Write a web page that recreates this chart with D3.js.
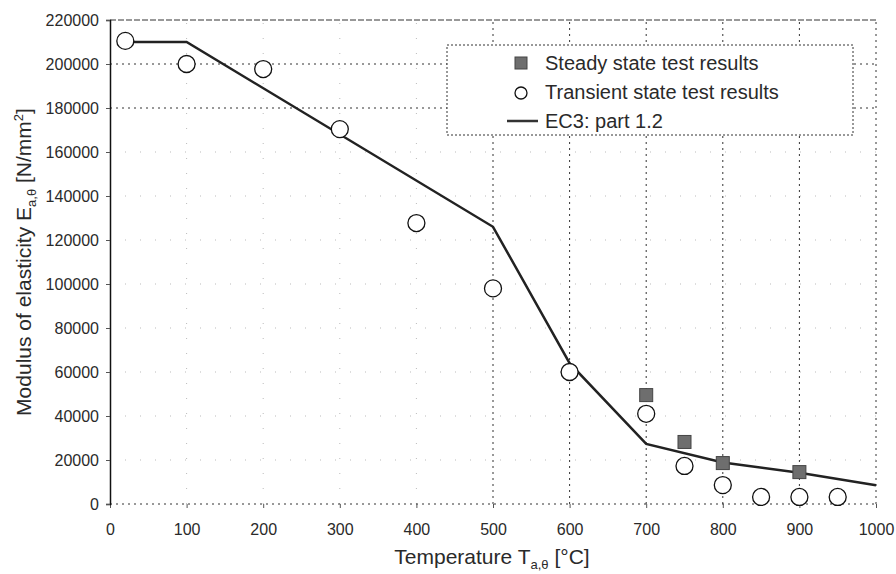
<!DOCTYPE HTML>
<html lang="en">
    <head>
        <meta charset="utf-8" />
        <title>Modulus of elasticity vs temperature</title>
        <style>
            body { margin: 0; background: #fff; }
            text { font-family: Arial, "Liberation Sans", sans-serif; fill: #2a2a2a; }
        </style>
    </head>
    <body>
        <div id="chart"></div>

        <script src="https://d3js.org/d3.v7.min.js"></script>
        <script>

            // EC3: part 1.2 curve
            const ec3Temp = [20, 100, 500, 600, 700, 800, 900, 1000];
            const ec3E = [210000, 210000, 126000, 64000, 27300, 18900, 14200, 8500];

            // Transient state test results
            const transTemp = [20, 100, 200, 300, 400, 500, 600, 700, 750, 800, 850, 900, 950];
            const transE = [210500, 200000, 197700, 170400, 127700, 98000, 60000, 41000, 17300, 8600, 3200, 3200, 3200];

            // Steady state test results
            const steadyTemp = [700, 750, 800, 900];
            const steadyE = [49500, 28200, 18600, 14500];

            const xTicks = [0, 100, 200, 300, 400, 500, 600, 700, 800, 900, 1000];
            const yTicks = [0, 20000, 40000, 60000, 80000, 100000, 120000, 140000, 160000, 180000, 200000, 220000];

            // grid lines that survived the scan clearly
            const strongX = [500, 600, 700, 800, 900, 1000];
            const strongY = [0, 180000, 200000, 220000];

            const width = 896, height = 574;
            const margin = { top: 20, right: 20, bottom: 70, left: 110 };

            const svg = d3.select("#chart")
                .append("svg")
                .attr("width", width)
                .attr("height", height);

            const x = d3.scaleLinear()
                .domain([0, 1000])
                .range([margin.left, width - margin.right]);

            const y = d3.scaleLinear()
                .domain([0, 220000])
                .range([height - margin.bottom, margin.top]);

            // grid
            svg.append("g")
                .selectAll("line")
                .data(xTicks.filter(t => t > 0))
                .join("line")
                .attr("x1", d => x(d)).attr("x2", d => x(d))
                .attr("y1", y(0)).attr("y2", y(220000))
                .attr("stroke", d => strongX.includes(d) ? "#333" : "#bbb")
                .attr("stroke-width", 1)
                .attr("stroke-dasharray", d => strongX.includes(d) ? "2,4" : "1,14");

            svg.append("g")
                .selectAll("line")
                .data(yTicks)
                .join("line")
                .attr("x1", x(0)).attr("x2", x(1000))
                .attr("y1", d => y(d)).attr("y2", d => y(d))
                .attr("stroke", d => strongY.includes(d) ? "#333" : "#bbb")
                .attr("stroke-width", 1)
                .attr("stroke-dasharray", d => d === 220000 ? "6,2" : (strongY.includes(d) ? "2,4" : "1,14"));

            // axes
            const xAxis = d3.axisBottom(x)
                .tickValues(xTicks)
                .tickSize(4)
                .tickFormat(d3.format("d"));

            const yAxis = d3.axisLeft(y)
                .tickValues(yTicks)
                .tickSize(4)
                .tickFormat(d3.format("d"));

            const gx = svg.append("g")
                .attr("transform", `translate(0, ${y(0)})`)
                .call(xAxis);
            gx.select(".domain").remove();
            gx.selectAll("line").attr("stroke", "#555");
            gx.selectAll("text")
                .attr("y", 20)
                .attr("dy", "0.71em")
                .style("font-size", "16px");

            const gy = svg.append("g")
                .attr("transform", `translate(${x(0)}, 0)`)
                .call(yAxis);
            gy.select(".domain").attr("stroke", "#111").attr("stroke-width", 1.5);
            gy.selectAll("line").attr("stroke", "#555");
            gy.selectAll("text")
                .attr("x", -11)
                .style("font-size", "16px");

            // axis titles
            const xt = svg.append("text")
                .attr("x", 492)
                .attr("y", 564)
                .attr("text-anchor", "middle")
                .style("font-size", "21px");
            xt.append("tspan").text("Temperature T");
            xt.append("tspan").attr("dy", 5).style("font-size", "13px").text("a,θ");
            xt.append("tspan").attr("dy", -5).text(" [°C]");

            const yt = svg.append("text")
                .attr("transform", `translate(31, 262) rotate(-90)`)
                .attr("text-anchor", "middle")
                .style("font-size", "21px");
            yt.append("tspan").text("Modulus of elasticity E");
            yt.append("tspan").attr("dy", 5).style("font-size", "13px").text("a,θ");
            yt.append("tspan").attr("dy", -5).text(" [N/mm");
            yt.append("tspan").attr("dy", -8).style("font-size", "13px").text("2");
            yt.append("tspan").attr("dy", 8).text("]");

            // EC3 line
            const line = d3.line()
                .x((d, i) => x(ec3Temp[i]))
                .y(d => y(d));

            svg.append("path")
                .datum(ec3E)
                .attr("fill", "none")
                .attr("stroke", "#222")
                .attr("stroke-width", 2.5)
                .attr("d", line);

            // steady state squares
            const sq = 13;
            svg.append("g")
                .selectAll("rect")
                .data(steadyE)
                .join("rect")
                .attr("x", (d, i) => x(steadyTemp[i]) - sq / 2)
                .attr("y", d => y(d) - sq / 2)
                .attr("width", sq)
                .attr("height", sq)
                .attr("fill", "#6e6e6e")
                .attr("stroke", "#444")
                .attr("stroke-width", 1);

            // transient circles
            svg.append("g")
                .selectAll("circle")
                .data(transE)
                .join("circle")
                .attr("cx", (d, i) => x(transTemp[i]))
                .attr("cy", d => y(d))
                .attr("r", 8.5)
                .attr("fill", "#fff")
                .attr("stroke", "#111")
                .attr("stroke-width", 1.3);

            // legend
            const lg = svg.append("g");
            lg.append("rect")
                .attr("x", 447).attr("y", 45)
                .attr("width", 406).attr("height", 90)
                .attr("fill", "#fff")
                .attr("stroke", "#333")
                .attr("stroke-dasharray", "2,2");

            lg.append("rect")
                .attr("x", 515).attr("y", 57)
                .attr("width", 12).attr("height", 12)
                .attr("fill", "#6e6e6e")
                .attr("stroke", "#444");
            lg.append("circle")
                .attr("cx", 521).attr("cy", 93)
                .attr("r", 6)
                .attr("fill", "#fff")
                .attr("stroke", "#111")
                .attr("stroke-width", 1.3);
            lg.append("line")
                .attr("x1", 507).attr("x2", 538)
                .attr("y1", 121).attr("y2", 121)
                .attr("stroke", "#333")
                .attr("stroke-width", 2.5);

            const labels = ["Steady state test results", "Transient state test results", "EC3: part 1.2"];
            lg.selectAll("text.lab")
                .data(labels)
                .join("text")
                .attr("class", "lab")
                .attr("x", 545)
                .attr("y", (d, i) => 70 + i * 29)
                .style("font-size", "20px")
                .text(d => d);

        </script>
    </body>
</html>
